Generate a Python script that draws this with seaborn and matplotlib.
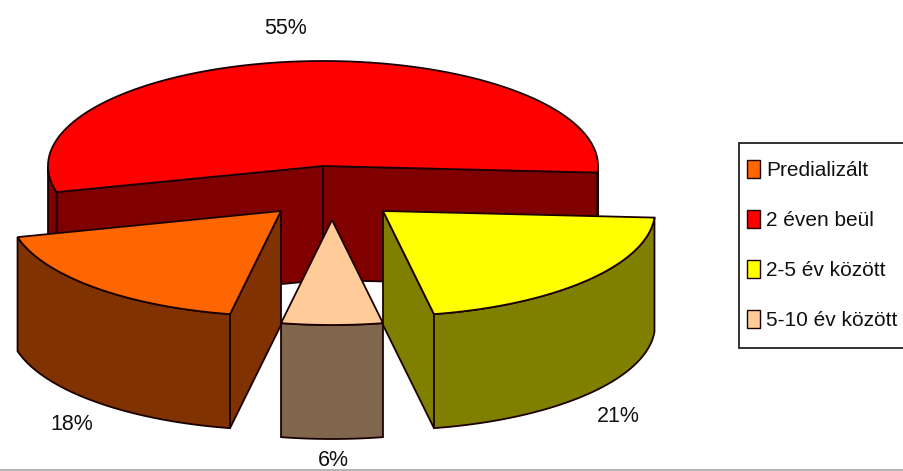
import numpy as np
import matplotlib
matplotlib.use("Agg")
import matplotlib.pyplot as plt
from matplotlib.patches import Patch, Rectangle
import seaborn as sns

labels = ["Predializált", "2 éven beül", "2-5 év között", "5-10 év között"]
values = [18, 55, 21, 6]
colors = ["#FF6600", "#FF0000", "#FFFF00", "#FFCC99"]

# pixel layout of the fake 3d pie
apex_x = [281, 323, 383, 332]
apex_y = [211, 166, 211, 220]
radius_x = [272, 275, 272, 272]
label_x = [72, 286, 618, 333]
label_y = [425, 28, 416, 461]
ry, depth = 105, 114
start = 190.8
edge = "#1a0000"

sns.set_theme(style="white")
plt.rcParams["font.family"] = ["Liberation Sans", "DejaVu Sans"]
palette = sns.color_palette(colors)


def rim(ax0, ay0, rx, a):
    a = np.radians(a)
    return ax0 + rx * np.sin(a), ay0 - ry * np.cos(a)


def draw_slice(ax, ax0, ay0, rx, a1, a2, color):
    dark = tuple(c * 0.5 for c in color)
    # side walls that face the viewer
    for a, show in ((a1, np.sin(np.radians(a1)) < 0), (a2, np.sin(np.radians(a2)) > 0)):
        if show:
            x, y = rim(ax0, ay0, rx, a)
            ax.fill([ax0, x, x, ax0], [ay0, y, y + depth, ay0 + depth],
                    facecolor=dark, edgecolor=edge, lw=1.3)
    # front part of the outer arc
    t = np.linspace(a1, a2, 300)
    front = np.cos(np.radians(t)) < 0
    for part in (t[front & (t < 360)], t[front & (t >= 360)]):
        if len(part) > 1:
            x, y = rim(ax0, ay0, rx, part)
            ax.fill(np.r_[x, x[::-1]], np.r_[y, (y + depth)[::-1]],
                    facecolor=dark, edgecolor=edge, lw=1.3)
    # top
    x, y = rim(ax0, ay0, rx, t)
    ax.fill(np.r_[ax0, x], np.r_[ay0, y], facecolor=color, edgecolor=edge, lw=1.3)


fig = plt.figure(figsize=(9.04, 4.71), dpi=100)
ax = fig.add_axes([0, 0, 1, 1])
ax.set_xlim(0, 904)
ax.set_ylim(471, 0)
ax.axis("off")

edges = start + np.cumsum([0] + values) * 3.6
for i in [1, 3, 0, 2]:
    draw_slice(ax, apex_x[i], apex_y[i], radius_x[i], edges[i], edges[i + 1], palette[i])

for i in range(len(values)):
    ax.text(label_x[i], label_y[i], f"{values[i]}%", fontsize=15.5, color="#111111",
            ha="center", va="center")

ax.axhline(470, color="#b5b5b5", lw=1.5)

# legend box runs off the right side of the picture
ax.add_patch(Rectangle((739, 143), 180, 205, facecolor="white", edgecolor="#222222", lw=1.3))
handles = [Patch(facecolor=palette[i], edgecolor=edge, label=labels[i]) for i in range(4)]
ax.legend(handles=handles, loc="upper left", bbox_to_anchor=(747, 160),
          bbox_transform=ax.transData, borderaxespad=0, borderpad=0, fontsize=15,
          frameon=False, handlelength=0.62, handleheight=0.95, handletextpad=0.3,
          labelspacing=1.43, labelcolor="#111111")

plt.savefig("out.png", dpi=100)
